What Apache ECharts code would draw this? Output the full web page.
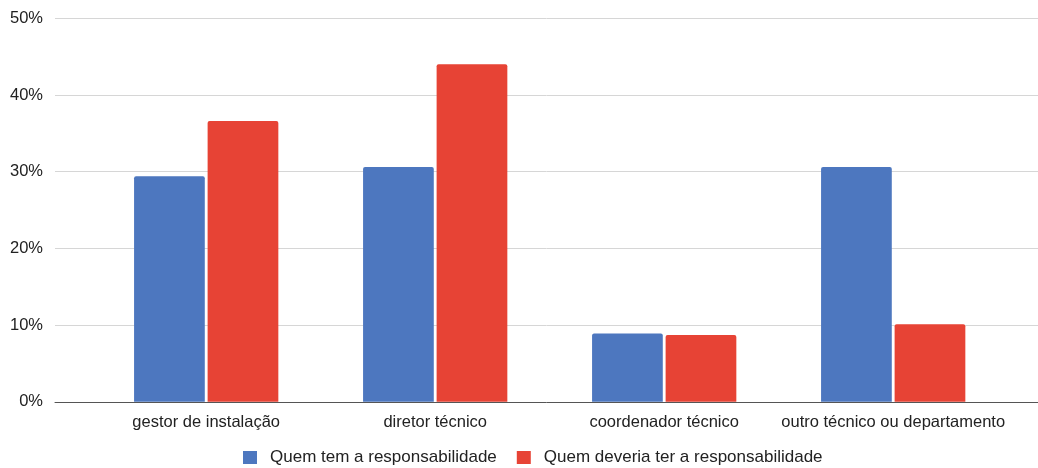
<!DOCTYPE html>
<html>
<head>
<meta charset="utf-8">
<script src="https://cdn.jsdelivr.net/npm/echarts@6/dist/echarts.min.js"></script>
<style>
  html, body { margin: 0; padding: 0; background: #fff; }
  #chart { width: 1038px; height: 468px; }
</style>
</head>
<body>
<div id="chart"></div>
<script>
// Categories and series values (percent)
const categories = ['gestor de instalação', 'diretor técnico', 'coordenador técnico', 'outro técnico ou departamento'];
const seriesNames = ['Quem tem a responsabilidade', 'Quem deveria ter a responsabilidade'];
const temValues = [29.4, 30.6, 8.9, 30.6];
const deveriaValues = [36.6, 44.0, 8.7, 10.1];
const yTicks = { min: 0, max: 50, interval: 10 };

const FONT = '"Liberation Sans", Arial, sans-serif';
const TEXT = '#222222';
const BLUE = '#4d77bf';
const RED = '#e74335';
const FS = 16.5;

const chart = echarts.init(document.getElementById('chart'), null, { renderer: 'canvas' });

chart.setOption({
  backgroundColor: '#ffffff',
  textStyle: { fontFamily: FONT },
  animation: false,
  legend: {
    data: seriesNames,
    left: 243,
    top: 449,
    padding: 0,
    icon: 'rect',
    itemWidth: 14,
    itemHeight: 13,
    itemGap: 20,
    textStyle: { color: TEXT, fontSize: 17, fontFamily: FONT, padding: [0, 0, 0, 8] }
  },
  grid: [
    // full-width grid carrying gridlines, tick labels and baseline
    { left: 55, right: 0, top: 18.3, bottom: 66.2 },
    // grid carrying the bars
    { left: 91.7, right: 30.3, top: 18.3, bottom: 66.2 }
  ],
  xAxis: [
    {
      gridIndex: 0, type: 'value', min: 0, max: 1,
      axisLine: { show: true, lineStyle: { color: '#555555', width: 1 } },
      axisTick: { show: false }, axisLabel: { show: false }, splitLine: { show: false }
    },
    {
      gridIndex: 1, type: 'category', data: categories,
      axisLine: { show: false }, axisTick: { show: false },
      axisLabel: { color: TEXT, fontSize: FS, fontFamily: FONT, margin: 12, interval: 0 }
    }
  ],
  yAxis: [
    {
      gridIndex: 0, type: 'value', min: yTicks.min, max: yTicks.max, interval: yTicks.interval,
      axisLine: { show: false }, axisTick: { show: false },
      axisLabel: { color: TEXT, fontSize: FS, fontFamily: FONT, margin: 12, formatter: '{value}%' },
      splitLine: { lineStyle: { color: '#d6d6d6', width: 1 } }
    },
    {
      gridIndex: 1, type: 'value', min: yTicks.min, max: yTicks.max, interval: yTicks.interval,
      show: false, splitLine: { show: false }
    }
  ],
  series: [
    {
      name: seriesNames[0], type: 'bar', xAxisIndex: 1, yAxisIndex: 1,
      data: temValues, barGap: '4%', barCategoryGap: '37%',
      itemStyle: { color: BLUE, borderRadius: [2, 2, 0, 0] }
    },
    {
      name: seriesNames[1], type: 'bar', xAxisIndex: 1, yAxisIndex: 1,
      data: deveriaValues, barGap: '4%', barCategoryGap: '37%',
      itemStyle: { color: RED, borderRadius: [2, 2, 0, 0] }
    }
  ]
});
</script>
</body>
</html>
